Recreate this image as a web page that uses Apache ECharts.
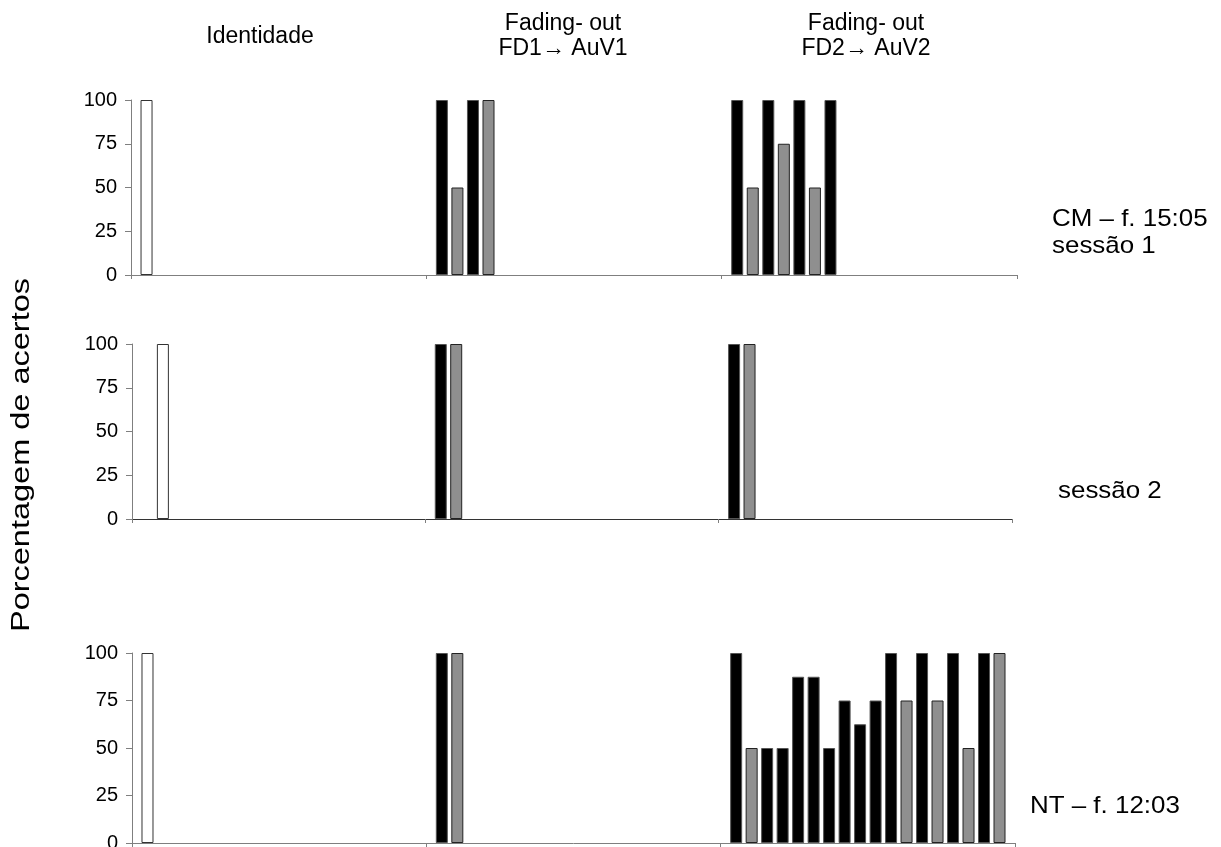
<!DOCTYPE html>
<html>
<head>
<meta charset="utf-8">
<script src="https://cdn.jsdelivr.net/npm/echarts@6/dist/echarts.min.js"></script>
<style>
html,body{margin:0;padding:0;background:#fff;}
#chart{width:1221px;height:847px;}
</style>
</head>
<body>
<div id="chart"></div>
<script>
// ---- DATA ----
const sectionTitles = ['Identidade', 'Fading- out\nFD1\u2192 AuV1', 'Fading- out\nFD2\u2192 AuV2'];
const panelLabels = ['CM \u2013 f. 15:05\nsess\u00e3o 1', 'sess\u00e3o 2', 'NT \u2013 f. 12:03'];
const yTicks = [0, 25, 50, 75, 100];
const yAxisTitle = 'Porcentagem de acertos';

// kinds: W = white (identidade), B = black, G = gray
const cm1Identidade = [100];
const cm1IdentidadeTipo = ['W'];
const cm1Fd1 = [100, 50, 100, 100];
const cm1Fd1Tipo = ['B', 'G', 'B', 'G'];
const cm1Fd2 = [100, 50, 100, 75, 100, 50, 100];
const cm1Fd2Tipo = ['B', 'G', 'B', 'G', 'B', 'G', 'B'];

const cm2Identidade = [100];
const cm2IdentidadeTipo = ['W'];
const cm2Fd1 = [100, 100];
const cm2Fd1Tipo = ['B', 'G'];
const cm2Fd2 = [100, 100];
const cm2Fd2Tipo = ['B', 'G'];

const ntIdentidade = [100];
const ntIdentidadeTipo = ['W'];
const ntFd1 = [100, 100];
const ntFd1Tipo = ['B', 'G'];
const ntFd2 = [100, 50, 50, 50, 87.5, 87.5, 50, 75, 62.5, 75, 100, 75, 100, 75, 100, 50, 100, 100];
const ntFd2Tipo = ['B', 'G', 'B', 'B', 'B', 'B', 'B', 'B', 'B', 'B', 'B', 'G', 'B', 'G', 'B', 'G', 'B', 'G'];

// ---- LAYOUT / BUILD ----
const SECTION = 19;
const SLOTS = SECTION * 3 + 1;
const categories = [];
for (let i = 0; i < SLOTS; i++) categories.push(String(i));

const FONT = '"Liberation Sans", Arial, sans-serif';
const styles = {
  W: { color: '#ffffff', borderColor: '#333333', borderWidth: 1 },
  B: { color: '#000000', borderColor: '#555555', borderWidth: 1 },
  G: { color: '#8f8f8f', borderColor: '#222222', borderWidth: 1 }
};

function buildPanel(sections) {
  const data = new Array(SLOTS).fill(null);
  sections.forEach(function (s, si) {
    s.values.forEach(function (v, k) {
      data[si * SECTION + s.start + k] = { value: v, itemStyle: styles[s.kinds[k]] };
    });
  });
  return data;
}

const panels = [
  buildPanel([
    { values: cm1Identidade, kinds: cm1IdentidadeTipo, start: 1 },
    { values: cm1Fd1, kinds: cm1Fd1Tipo, start: 1 },
    { values: cm1Fd2, kinds: cm1Fd2Tipo, start: 1 }
  ]),
  buildPanel([
    { values: cm2Identidade, kinds: cm2IdentidadeTipo, start: 2 },
    { values: cm2Fd1, kinds: cm2Fd1Tipo, start: 1 },
    { values: cm2Fd2, kinds: cm2Fd2Tipo, start: 1 }
  ]),
  buildPanel([
    { values: ntIdentidade, kinds: ntIdentidadeTipo, start: 1 },
    { values: ntFd1, kinds: ntFd1Tipo, start: 1 },
    { values: ntFd2, kinds: ntFd2Tipo, start: 1 }
  ])
];

const grids = [
  { left: 131, top: 100, width: 886, height: 175 },
  { left: 132, top: 344, width: 880, height: 175 },
  { left: 132, top: 653, width: 883, height: 190 }
];

const axisColor = '#7f7f7f';

function sideLabel(text, x, y, lh) {
  return { type: 'text', x: x, y: y, scaleX: 1.08,
    style: { text: text, x: 0, y: 0, fontSize: 24, fontFamily: FONT, fill: '#000', align: 'left', verticalAlign: 'middle', lineHeight: lh || 27 } };
}

const option = {
  backgroundColor: '#ffffff',
  animation: false,
  grid: grids.map(function (g) { return Object.assign({ containLabel: false, outerBoundsMode: 'none' }, g); }),
  xAxis: grids.map(function (g, i) {
    return {
      type: 'category', gridIndex: i, data: categories, boundaryGap: false,
      axisLine: { show: true, lineStyle: { color: i === 1 ? '#333333' : axisColor, width: 1 } },
      axisTick: { show: true, length: 4, lineStyle: { color: axisColor },
        interval: function (idx) { return idx % SECTION === 0; } },
      axisLabel: { show: false }, splitLine: { show: false }
    };
  }),
  yAxis: grids.map(function (g, i) {
    return {
      type: 'value', gridIndex: i, min: yTicks[0], max: yTicks[yTicks.length - 1], interval: 25,
      axisLine: { show: true, lineStyle: { color: axisColor, width: 1 } },
      axisTick: { show: true, length: 6, lineStyle: { color: axisColor } },
      axisLabel: { show: true, color: '#000', fontSize: 20, fontFamily: FONT, margin: 14 },
      splitLine: { show: false }
    };
  }),
  series: panels.map(function (d, i) {
    return { type: 'bar', xAxisIndex: i, yAxisIndex: i, data: d, barWidth: 12 };
  }),
  graphic: [
    { type: 'text', style: { text: sectionTitles[0], x: 260, y: 37, fontSize: 23, fontFamily: FONT, fill: '#000', align: 'center', verticalAlign: 'middle' } },
    { type: 'text', style: { text: sectionTitles[1], x: 563, y: 36, fontSize: 23, fontFamily: FONT, fill: '#000', align: 'center', verticalAlign: 'middle', lineHeight: 25 } },
    { type: 'text', style: { text: sectionTitles[2], x: 866, y: 36, fontSize: 23, fontFamily: FONT, fill: '#000', align: 'center', verticalAlign: 'middle', lineHeight: 25 } },
    sideLabel(panelLabels[0], 1052, 233, 27),
    sideLabel(panelLabels[1], 1058, 491),
    sideLabel(panelLabels[2], 1030, 806),
    { type: 'text', x: 22, y: 455, rotation: Math.PI / 2, scaleX: 1.25, style: { text: yAxisTitle, x: 0, y: 0, fontSize: 26, fontFamily: FONT, fill: '#000', align: 'center', verticalAlign: 'middle' } }
  ]
};

const chart = echarts.init(document.getElementById('chart'), null, { renderer: 'canvas' });
chart.setOption(option);
</script>
</body>
</html>
